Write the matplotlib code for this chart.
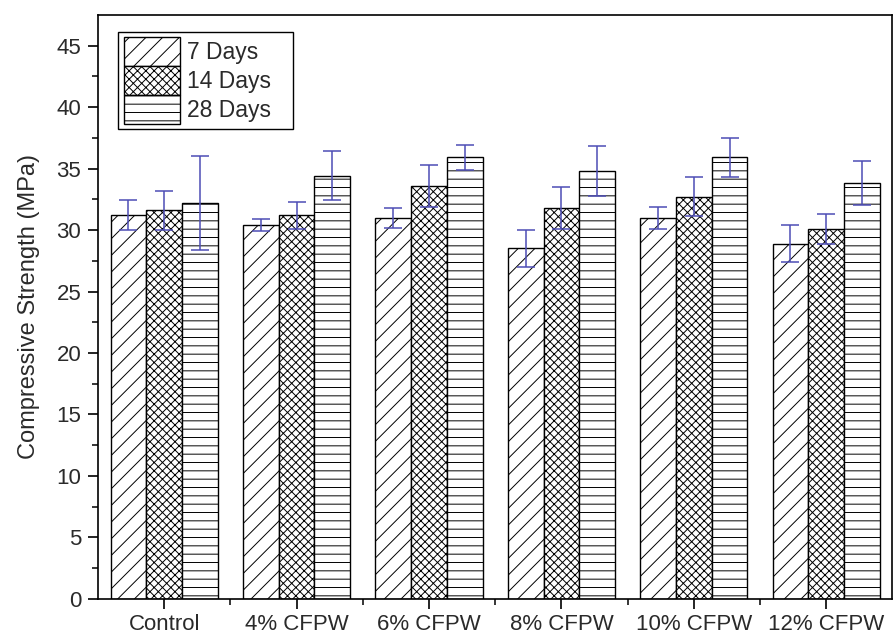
import matplotlib.pyplot as plt
import numpy as np

plt.rcParams['font.family'] = ['Liberation Sans', 'DejaVu Sans']
plt.rcParams['hatch.linewidth'] = 0.7

groups = ["Control", "4% CFPW", "6% CFPW", "8% CFPW", "10% CFPW", "12% CFPW"]
ages = ["7 Days", "14 Days", "28 Days"]

day7 = [31.2, 30.4, 31.0, 28.5, 31.0, 28.9]
day14 = [31.6, 31.2, 33.6, 31.8, 32.7, 30.1]
day28 = [32.2, 34.4, 35.9, 34.8, 35.9, 33.8]

err7 = [1.2, 0.5, 0.8, 1.5, 0.9, 1.5]
err14 = [1.6, 1.1, 1.7, 1.7, 1.6, 1.2]
err28 = [3.8, 2.0, 1.0, 2.0, 1.6, 1.8]

hatches = ["//", "xxxx", "--"]
text_color = "#2a2a2a"


def plot(values, errors):
    fig = plt.figure(figsize=(8.94, 6.42), dpi=100)
    ax = fig.add_axes([0.1096, 0.067, 0.8886, 0.91])
    x = np.arange(len(groups))
    width = 0.27
    for i, (vals, errs) in enumerate(zip(values, errors)):
        pos = x + (i - 1) * width
        ax.bar(pos, vals, width, color="white", edgecolor="black",
               linewidth=1.0, hatch=hatches[i], label=ages[i], zorder=2)
        ax.errorbar(pos, vals, yerr=errs, fmt="none", ecolor="#4d4db5",
                    elinewidth=1.1, capsize=6.5, capthick=1.1, zorder=3)

    ax.set_xlim(-0.5, 5.5)
    ax.set_ylim(0, 47.5)
    ax.set_xticks(x)
    ax.set_xticklabels(groups, fontsize=16, color=text_color)
    ax.set_xticks(x[:-1] + 0.5, minor=True)
    ax.set_yticks(np.arange(0, 46, 5))
    ax.set_yticks(np.arange(2.5, 47, 5), minor=True)
    ax.tick_params(axis="y", labelsize=16, labelcolor=text_color, pad=5)
    ax.tick_params(axis="x", pad=4)
    ax.tick_params(which="major", direction="out", length=7, width=1.2)
    ax.tick_params(which="minor", direction="out", length=4, width=1.1)
    for s in ax.spines.values():
        s.set_linewidth(1.2)
    ax.set_ylabel("Compressive Strength (MPa)", fontsize=17, color=text_color,
                  labelpad=12)

    # fixed-width legend box in the upper left corner
    leg = ax.legend(loc="upper left", bbox_to_anchor=(0.025, 0.971, 0.22, 0),
                    mode="expand", fontsize=16.5,
                    handlelength=2.45, handleheight=1.55, handletextpad=0.3,
                    labelspacing=0.0, borderpad=0.25, borderaxespad=0.0,
                    fancybox=False, framealpha=1)
    leg.get_frame().set_edgecolor("black")
    leg.get_frame().set_linewidth(1.0)
    for t in leg.get_texts():
        t.set_color(text_color)

    fig.savefig("out.png", dpi=100)


if __name__ == "__main__":
    plot([day7, day14, day28], [err7, err14, err28])
